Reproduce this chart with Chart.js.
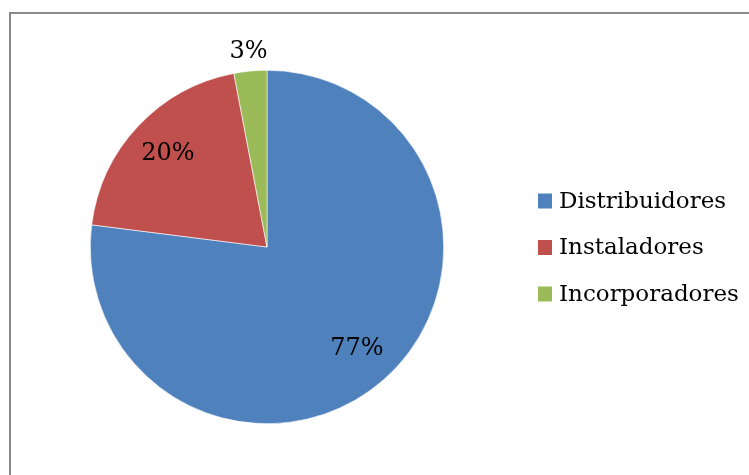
<!DOCTYPE html>
<html>
<head>
<meta charset="utf-8">
<script src="https://cdn.jsdelivr.net/npm/chart.js@4"></script>
<style>
  html, body { margin: 0; padding: 0; background: #fff; }
  #wrap { position: relative; width: 749px; height: 475px; overflow: hidden; }
  #frame {
    position: absolute; left: 9px; top: 12px; width: 800px; height: 500px;
    border-left: 2px solid #8a8a8a; border-top: 2px solid #8a8a8a;
  }
  canvas { position: absolute; left: 0; top: 0; }
</style>
</head>
<body>
<div id="wrap">
  <div id="frame"></div>
  <canvas id="pieChart" width="749" height="475"></canvas>
</div>
<script>
const categories = ["Distribuidores", "Instaladores", "Incorporadores"];
const shares = [77, 20, 3];
const sliceColors = ["#4F81BD", "#C0504D", "#9BBB59"];

const FONT = "'DejaVu Serif', serif";

// percentage labels: inside for big slices, outside for the small one
const sliceLabels = {
    id: "sliceLabels",
    afterDatasetsDraw(chart) {
        const { ctx } = chart;
        const meta = chart.getDatasetMeta(0);
        ctx.save();
        ctx.fillStyle = "#000";
        ctx.font = "24px " + FONT;
        ctx.textAlign = "center";
        ctx.textBaseline = "middle";
        meta.data.forEach((arc, i) => {
            const mid = (arc.startAngle + arc.endAngle) / 2;
            const dist = shares[i] < 5 ? arc.outerRadius + 19 : arc.outerRadius * 0.77;
            const x = arc.x + Math.cos(mid) * dist;
            const y = arc.y + Math.sin(mid) * dist;
            ctx.fillText(shares[i] + "%", x, y);
        });
        ctx.restore();
    },
};

// legend on the right, drawn by hand
const sideLegend = {
    id: "sideLegend",
    afterDraw(chart) {
        const { ctx } = chart;
        const x0 = 538, y0 = 201, step = 46.5, box = 15;
        ctx.save();
        ctx.font = "23px " + FONT;
        ctx.textBaseline = "middle";
        ctx.textAlign = "left";
        categories.forEach((name, i) => {
            const y = y0 + i * step;
            ctx.fillStyle = sliceColors[i];
            ctx.fillRect(x0, y - box / 2, box - 1, box);
            ctx.fillStyle = "#000";
            ctx.fillText(name, x0 + 21, y + 1);
        });
        ctx.restore();
    },
};

const ctx = document.getElementById("pieChart").getContext("2d");
new Chart(ctx, {
    type: "pie",
    data: {
        labels: categories,
        datasets: [{
            data: shares,
            backgroundColor: sliceColors,
            borderColor: "#ffffff",
            borderWidth: 0.6,
        }],
    },
    options: {
        responsive: false,
        animation: false,
        layout: {
            padding: { left: 90, right: 305, top: 70, bottom: 51 },
        },
        plugins: {
            legend: { display: false },
            tooltip: { enabled: false },
        },
    },
    plugins: [sliceLabels, sideLegend],
});
</script>
</body>
</html>
